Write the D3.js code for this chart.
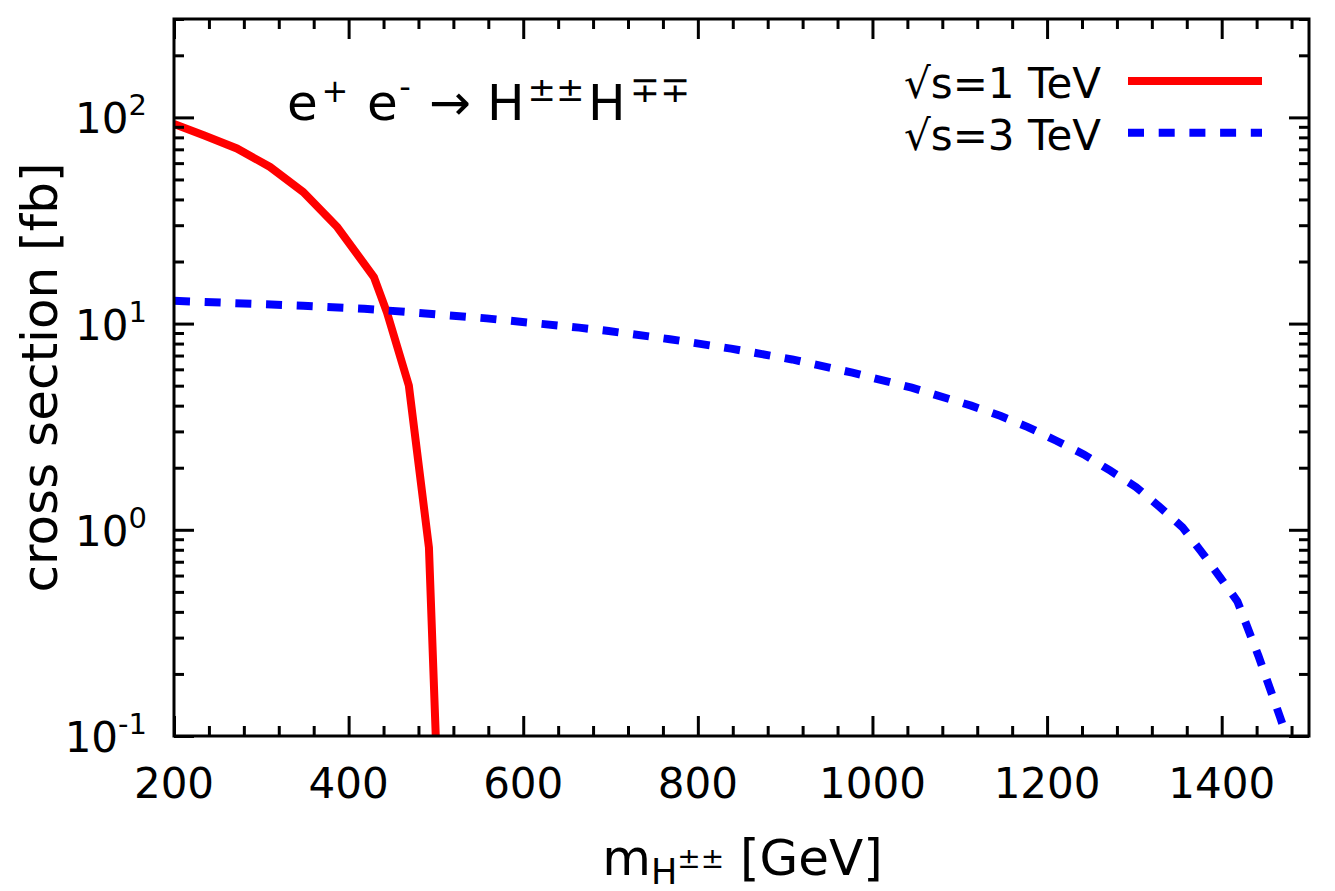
<!DOCTYPE html>
<html><head><meta charset="utf-8">
<script src="https://cdn.jsdelivr.net/npm/d3@7"></script>
<style>body{margin:0;background:#fff} text{font-family:"DejaVu Sans",sans-serif;fill:#000}</style>
</head><body><svg id="c" width="1335" height="891"></svg>
<script>
// ---- data ----
const xTicks = [200, 400, 600, 800, 1000, 1200, 1400];
const yTicks = [0.1, 1, 10, 100];
const yTickExp = ["-1", "0", "1", "2"];
const seriesLabels = ["\u221As=1 TeV", "\u221As=3 TeV"];
const seriesColors = ["#ff0000", "#0000ff"];

const mass1  = [200, 234, 272, 310, 348, 387, 429, 444, 469, 492, 500];
const sigma1 = [93, 82, 70.7, 57.5, 43.5, 29.4, 16.8, 11.3, 5.0, 0.82, 0.095];

const mass3  = [200, 348, 418, 488, 558, 664, 698, 768, 838, 908, 977, 1045, 1113, 1147, 1178, 1210, 1242, 1272, 1302, 1329, 1355, 1377, 1398, 1418, 1442, 1467, 1480];
const sigma3 = [12.9, 12.2, 11.8, 11.2, 10.6, 9.56, 9.2, 8.4, 7.56, 6.7, 5.78, 4.89, 4.0, 3.56, 3.15, 2.71, 2.32, 1.94, 1.61, 1.29, 1.03, 0.78, 0.59, 0.45, 0.245, 0.123, 0.085];

// ---- layout ----
const L = 174, R = 1309, T = 19, B = 736;
const svg = d3.select("#c");
const x = d3.scaleLinear().domain([200, 1500]).range([L, R]);
const y = d3.scaleLog().domain([0.1, 300]).range([B, T]);

const xMinor = d3.range(200, 1501, 40).filter(v => !xTicks.includes(v));
const yMinor = [];
[-1, 0, 1, 2].forEach(d => { for (let k = 2; k <= 9; k++) { const v = k * Math.pow(10, d); if (v <= 300) yMinor.push(+v.toPrecision(3)); } });

svg.append("defs").append("clipPath").attr("id", "clip")
  .append("rect").attr("x", L).attr("y", T).attr("width", R - L).attr("height", B - T);

// ---- curves ----
const line = d3.line().x((d) => x(d[0])).y((d) => y(d[1]));
const g = svg.append("g").attr("clip-path", "url(#clip)");
g.append("path").datum(mass1.map((m, i) => [m, sigma1[i]]))
  .attr("d", line).attr("fill", "none").attr("stroke", seriesColors[0]).attr("stroke-width", 8);
g.append("path").datum(mass3.map((m, i) => [m, sigma3[i]]))
  .attr("d", line).attr("fill", "none").attr("stroke", seriesColors[1]).attr("stroke-width", 8)
  .attr("stroke-dasharray", "16,14.7");

// ---- axes ticks ----
function tickAxis(axis, tr, vals, size) {
  const a = svg.append("g").attr("transform", tr)
    .call(axis.tickValues(vals).tickSize(size).tickFormat(""));
  a.select(".domain").remove();
  a.selectAll("line").attr("stroke", "#000").attr("stroke-width", 3);
  return a;
}
tickAxis(d3.axisBottom(x), `translate(0,${B})`, xTicks, -20);
tickAxis(d3.axisBottom(x), `translate(0,${B})`, xMinor, -10);
tickAxis(d3.axisTop(x), `translate(0,${T})`, xTicks, -20);
tickAxis(d3.axisTop(x), `translate(0,${T})`, xMinor, -10);
tickAxis(d3.axisLeft(y), `translate(${L},0)`, yTicks, -20);
tickAxis(d3.axisLeft(y), `translate(${L},0)`, yMinor, -10);
tickAxis(d3.axisRight(y), `translate(${R},0)`, yTicks, -20);
tickAxis(d3.axisRight(y), `translate(${R},0)`, yMinor, -10);

svg.append("rect").attr("x", L).attr("y", T).attr("width", R - L).attr("height", B - T)
  .attr("fill", "none").attr("stroke", "#000").attr("stroke-width", 3);

// ---- tick labels ----
svg.append("g").selectAll("text").data(xTicks).join("text")
  .attr("x", d => x(d)).attr("y", B + 62).attr("text-anchor", "middle")
  .attr("font-size", 42).text(d => d);

const yl = svg.append("g").selectAll("text").data(yTicks).join("text")
  .attr("x", L - 27).attr("y", d => y(d) + 16).attr("text-anchor", "end").attr("font-size", 42);
yl.append("tspan").text("10");
yl.append("tspan").attr("dy", -18).attr("font-size", 29).text((d, i) => yTickExp[i]);

// ---- axis titles ----
svg.append("text").attr("transform", `translate(57,${(T + B) / 2}) rotate(-90)`)
  .attr("text-anchor", "middle").attr("font-size", 50).text("cross section [fb]");

const xl = svg.append("text").attr("x", (L + R) / 2 + 1).attr("y", 875)
  .attr("text-anchor", "middle").attr("font-size", 50);
xl.append("tspan").text("m");
xl.append("tspan").attr("font-size", 35).attr("dy", 9).text("H");
xl.append("tspan").attr("font-size", 28).attr("dy", -16).text("\u00B1\u00B1");
xl.append("tspan").attr("dy", 7).text(" [GeV]");

// ---- process label ----
const tl = svg.append("g");
tl.append("text").attr("x", 287).attr("y", 120).attr("font-size", 50).text("e");
tl.append("text").attr("x", 335).attr("y", 102).attr("font-size", 32).attr("text-anchor", "middle").text("+");
tl.append("text").attr("x", 367).attr("y", 120).attr("font-size", 50).text("e");
tl.append("text").attr("x", 405).attr("y", 98).attr("font-size", 32).attr("text-anchor", "middle").text("-");
tl.append("text").attr("x", 450).attr("y", 120).attr("font-size", 50).attr("text-anchor", "middle").text("\u2192");
tl.append("text").attr("x", 487).attr("y", 120).attr("font-size", 50).text("H");
tl.append("text").attr("x", 556).attr("y", 101).attr("font-size", 34).attr("text-anchor", "middle").text("\u00B1\u00B1");
tl.append("text").attr("x", 588).attr("y", 120).attr("font-size", 50).text("H");
tl.append("text").attr("x", 660).attr("y", 102).attr("font-size", 36).attr("text-anchor", "middle").text("\u2213\u2213");

// ---- legend ----
const lg = svg.append("g");
seriesLabels.forEach((s, i) => {
  const yy = 81 + i * 51.7;
  lg.append("text").attr("x", 1101).attr("y", yy + 17).attr("text-anchor", "end")
    .attr("font-size", 42).text(s);
  lg.append("line").attr("x1", 1128).attr("x2", 1262).attr("y1", yy).attr("y2", yy)
    .attr("stroke", seriesColors[i]).attr("stroke-width", 8)
    .attr("stroke-dasharray", i === 1 ? "16,14.7" : null);
});
</script></body></html>
